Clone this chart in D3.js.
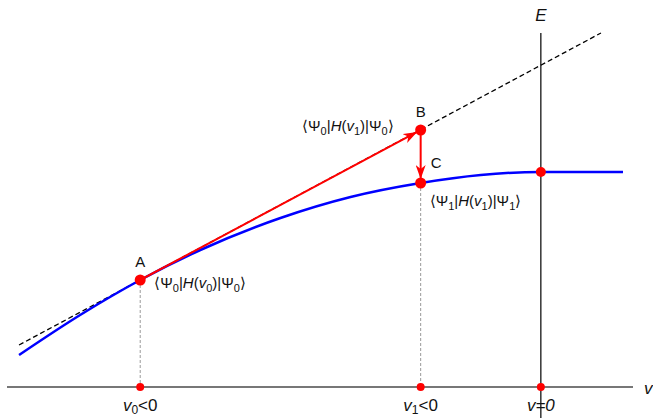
<!DOCTYPE html>
<html>
<head>
<meta charset="utf-8">
<script src="https://cdn.jsdelivr.net/npm/d3@7"></script>
<style>
  body { margin: 0; background: #fff; }
  svg { display: block; font-family: "Liberation Sans", Arial, sans-serif; }
  .lbl { font-size: 15px; fill: #111; }
  .tick { font-size: 17px; fill: #111; }
</style>
</head>
<body>
<svg id="chart" width="653" height="418"></svg>
<script>
// energy curve E(v)
const curveV = [-5.21, -4.6, -4.0, -3.4, -2.6, -1.9, -1.2, -0.6, 0, 0.82]
const curveE = [0.32, 0.72, 1.07, 1.37, 1.69, 1.90, 2.04, 2.12, 2.15, 2.15]

// tangent at A (dashed)
const tanV = [-5.21, 0.6]
const tanE = [0.42, 3.54]

// marked points
const ptName = ['A', 'B', 'C']
const ptV    = [-4.0, -1.2, -1.2]
const ptE    = [1.07, 2.57, 2.04]
const zeroE  = 2.15

// axis ticks
const tickV    = [-4.0, -1.2, 0]
const tickSub  = ['0', '1', null]

const svg = d3.select('#chart')
const x = d3.scaleLinear().domain([-5.33, 0.92]).range([7, 633])
const y = d3.scaleLinear().domain([0, 3.87]).range([387, 0])

const defs = svg.append('defs')
defs.append('marker')
    .attr('id', 'arr')
    .attr('viewBox', '0 0 14 10')
    .attr('refX', 14).attr('refY', 5)
    .attr('markerWidth', 14).attr('markerHeight', 10)
    .attr('markerUnits', 'userSpaceOnUse')
    .attr('orient', 'auto')
  .append('path')
    .attr('d', 'M0,0 L14,5 L0,10 L4,5 Z')
    .attr('fill', '#f00')

// horizontal axis
svg.append('line')
   .attr('x1', x.range()[0]).attr('x2', x.range()[1])
   .attr('y1', y(0)).attr('y2', y(0))
   .attr('stroke', '#777').attr('stroke-width', 2)

// vertical E axis at v=0
svg.append('line')
   .attr('x1', x(0)).attr('x2', x(0))
   .attr('y1', 33).attr('y2', 418)
   .attr('stroke', '#000').attr('stroke-width', 1.2)

// dotted drop lines
svg.selectAll('.drop').data([0, 2]).enter().append('line')
   .attr('x1', i => x(ptV[i])).attr('x2', i => x(ptV[i]))
   .attr('y1', i => y(ptE[i])).attr('y2', y(0))
   .attr('stroke', '#999').attr('stroke-dasharray', '3,2')

// tangent
const pts = d3.zip(curveV, curveE)
svg.append('path')
   .datum(d3.zip(tanV, tanE))
   .attr('d', d3.line().x(d => x(d[0])).y(d => y(d[1])))
   .attr('stroke', '#000').attr('stroke-width', 1.3)
   .attr('stroke-dasharray', '5,3').attr('fill', 'none')

// curve
svg.append('path')
   .datum(pts)
   .attr('d', d3.line().x(d => x(d[0])).y(d => y(d[1])).curve(d3.curveMonotoneX))
   .attr('stroke', '#00f').attr('stroke-width', 2.5).attr('fill', 'none')

// arrows A->B, B->C
function arrow(i, j){
  const x1 = x(ptV[i]), y1 = y(ptE[i]), x2 = x(ptV[j]), y2 = y(ptE[j])
  const len = Math.hypot(x2 - x1, y2 - y1), s = (len - 4) / len
  svg.append('line')
     .attr('x1', x1).attr('y1', y1)
     .attr('x2', x1 + (x2 - x1) * s).attr('y2', y1 + (y2 - y1) * s)
     .attr('stroke', '#f00').attr('stroke-width', 2)
     .attr('marker-end', 'url(#arr)')
}
arrow(0, 1)
arrow(1, 2)

// dots
svg.selectAll('.pt').data(ptV).enter().append('circle')
   .attr('cx', d => x(d)).attr('cy', (d, i) => y(ptE[i])).attr('r', 5.5).attr('fill', '#f00')
svg.append('circle').attr('cx', x(0)).attr('cy', y(zeroE)).attr('r', 5).attr('fill', '#f00')
svg.selectAll('.ax').data(tickV).enter().append('circle')
   .attr('cx', d => x(d)).attr('cy', y(0)).attr('r', 4).attr('fill', '#f00')

// point letters
const nameOff = [[0, -13, 'middle'], [0, -13, 'middle'], [10, -15, 'start']]
ptName.forEach((n, i) => {
  svg.append('text').attr('class', 'lbl').attr('font-size', 16)
     .attr('x', x(ptV[i]) + nameOff[i][0]).attr('y', y(ptE[i]) + nameOff[i][1])
     .attr('text-anchor', nameOff[i][2]).text(n)
})

// bra-ket labels
function braket(tx, ty, anchor, a, b, c){
  const t = svg.append('text').attr('class', 'lbl').attr('x', tx).attr('y', ty)
              .attr('text-anchor', anchor)
  t.append('tspan').text('\u27E8\u03A8')
  t.append('tspan').attr('font-size', 11).attr('dy', 4).text(a)
  t.append('tspan').attr('dy', -4).text('|')
  t.append('tspan').attr('font-style', 'italic').text('H')
  t.append('tspan').text('(')
  t.append('tspan').attr('font-style', 'italic').text('v')
  t.append('tspan').attr('font-size', 11).attr('dy', 4).text(b)
  t.append('tspan').attr('dy', -4).text(')|\u03A8')
  t.append('tspan').attr('font-size', 11).attr('dy', 4).text(c)
  t.append('tspan').attr('dy', -4).text('\u27E9')
}
braket(x(ptV[0]) + 14, y(ptE[0]) + 8, 'start', '0', '0', '0')
braket(x(ptV[1]) - 27, y(ptE[1]) + 1, 'end', '0', '1', '0')
braket(x(ptV[2]) + 9, y(ptE[2]) + 23, 'start', '1', '1', '1')

// tick labels
tickV.forEach((v, i) => {
  const t = svg.append('text').attr('class', 'tick')
     .attr('x', x(v)).attr('y', 411).attr('text-anchor', 'middle')
  t.append('tspan').attr('font-style', 'italic').text('v')
  if (tickSub[i] !== null){
    t.append('tspan').attr('font-size', 12).attr('dy', 3).text(tickSub[i])
    t.append('tspan').attr('dy', -3).text('<0')
  } else {
    t.append('tspan').attr('font-style', 'italic').text('=0')
  }
})

// axis names
svg.append('text').attr('class', 'tick').attr('font-style', 'italic')
   .attr('x', x(0)).attr('y', 21).attr('text-anchor', 'middle').text('E')
svg.append('text').attr('class', 'tick').attr('font-style', 'italic')
   .attr('x', 644).attr('y', 394).text('v')
</script>
</body>
</html>
